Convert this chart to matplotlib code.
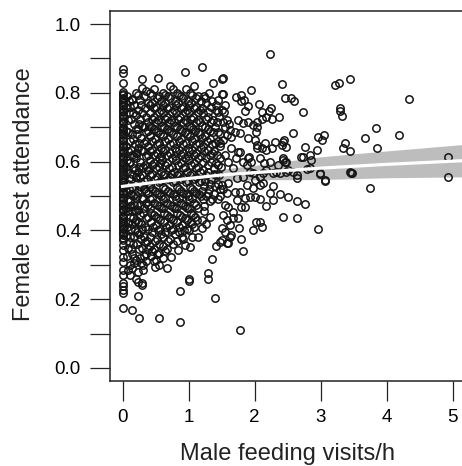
import matplotlib
matplotlib.use("Agg")
import matplotlib.pyplot as plt

plt.rcParams['font.family'] = ['Liberation Sans', 'DejaVu Sans']

# ---------------- data ----------------
# nests with no male feeding visits (x = 0)
zero_visits_y = [0.868, 0.857, 0.830, 0.801, 0.793, 0.786, 0.777, 0.770, 0.761, 0.752,
                 0.744, 0.737, 0.727, 0.718, 0.711, 0.702, 0.693, 0.686, 0.676, 0.668,
                 0.659, 0.651, 0.642, 0.633, 0.625, 0.616, 0.608, 0.599, 0.590, 0.583,
                 0.573, 0.566, 0.556, 0.548, 0.540, 0.531, 0.522, 0.514, 0.506, 0.497,
                 0.489, 0.480, 0.471, 0.463, 0.455, 0.446, 0.437, 0.429, 0.420, 0.412,
                 0.403, 0.395, 0.386, 0.378, 0.371, 0.358, 0.343, 0.324, 0.309, 0.285,
                 0.270, 0.247, 0.238, 0.227, 0.219, 0.175,
                 0.797, 0.781, 0.765, 0.748, 0.732, 0.714, 0.697, 0.680, 0.663, 0.646,
                 0.629, 0.612, 0.595, 0.578, 0.561, 0.544, 0.527, 0.510, 0.493, 0.476,
                 0.459, 0.442, 0.425, 0.408, 0.391]

# dense cloud, 0 < x < 0.6
cloud_low = [
    (0.07, 0.79), (0.12, 0.76), (0.16, 0.74), (0.09, 0.72), (0.18, 0.71), (0.06, 0.69),
    (0.14, 0.68), (0.11, 0.66), (0.19, 0.65), (0.08, 0.63), (0.15, 0.62), (0.12, 0.60),
    (0.17, 0.58), (0.07, 0.57), (0.13, 0.55), (0.19, 0.54), (0.10, 0.52), (0.16, 0.50),
    (0.08, 0.49), (0.13, 0.47), (0.18, 0.46), (0.11, 0.44), (0.15, 0.42), (0.07, 0.41),
    (0.19, 0.40), (0.12, 0.38), (0.16, 0.36), (0.09, 0.35), (0.14, 0.33), (0.18, 0.32),
    (0.11, 0.30), (0.15, 0.29), (0.145, 0.78), (0.10, 0.745), (0.065, 0.605), (0.175, 0.615),
    (0.085, 0.455), (0.125, 0.505), (0.195, 0.575), (0.165, 0.435), (0.15, 0.781),
    (0.21, 0.80), (0.26, 0.78), (0.33, 0.79), (0.38, 0.77), (0.23, 0.75), (0.30, 0.74),
    (0.36, 0.73), (0.25, 0.71), (0.32, 0.70), (0.39, 0.69), (0.22, 0.68), (0.28, 0.67),
    (0.35, 0.66), (0.24, 0.64), (0.31, 0.63), (0.38, 0.62), (0.21, 0.61), (0.27, 0.60),
    (0.34, 0.59), (0.23, 0.57), (0.30, 0.56), (0.37, 0.55), (0.25, 0.53), (0.32, 0.52),
    (0.39, 0.51), (0.22, 0.50), (0.29, 0.49), (0.35, 0.48), (0.24, 0.46), (0.31, 0.45),
    (0.38, 0.44), (0.21, 0.43), (0.28, 0.42), (0.34, 0.41), (0.25, 0.39), (0.32, 0.38),
    (0.37, 0.37), (0.22, 0.36), (0.29, 0.35), (0.35, 0.33), (0.26, 0.32), (0.31, 0.30),
    (0.24, 0.28), (0.36, 0.31), (0.30, 0.815), (0.27, 0.555), (0.365, 0.585), (0.215, 0.475),
    (0.30, 0.839), (0.145, 0.169), (0.24, 0.21), (0.25, 0.144), (0.30, 0.241), (0.24, 0.251),
    (0.11, 0.27), (0.20, 0.26), (0.29, 0.246), (0.31, 0.285),
    (0.42, 0.80), (0.48, 0.81), (0.55, 0.79), (0.44, 0.77), (0.51, 0.76), (0.58, 0.75),
    (0.41, 0.74), (0.47, 0.73), (0.54, 0.72), (0.43, 0.70), (0.50, 0.69), (0.57, 0.68),
    (0.45, 0.66), (0.52, 0.65), (0.59, 0.64), (0.41, 0.63), (0.48, 0.62), (0.55, 0.61),
    (0.44, 0.59), (0.51, 0.58), (0.58, 0.57), (0.42, 0.56), (0.49, 0.55), (0.56, 0.54),
    (0.45, 0.52), (0.52, 0.51), (0.59, 0.50), (0.41, 0.49), (0.48, 0.48), (0.55, 0.47),
    (0.43, 0.45), (0.50, 0.44), (0.57, 0.43), (0.46, 0.41), (0.53, 0.40), (0.59, 0.39),
    (0.42, 0.38), (0.49, 0.37), (0.56, 0.36), (0.45, 0.34), (0.52, 0.33), (0.47, 0.31),
    (0.55, 0.30), (0.49, 0.294), (0.54, 0.844), (0.415, 0.535), (0.575, 0.595), (0.55, 0.144),
]

# dense cloud, 0.6 <= x < 1.5
cloud_mid = [
    (0.62, 0.80), (0.69, 0.79), (0.76, 0.81), (0.64, 0.77), (0.71, 0.76), (0.78, 0.75),
    (0.61, 0.74), (0.67, 0.73), (0.74, 0.72), (0.63, 0.70), (0.70, 0.69), (0.77, 0.68),
    (0.65, 0.66), (0.72, 0.65), (0.79, 0.64), (0.61, 0.63), (0.68, 0.62), (0.75, 0.61),
    (0.64, 0.59), (0.71, 0.58), (0.78, 0.57), (0.62, 0.56), (0.69, 0.55), (0.76, 0.54),
    (0.65, 0.52), (0.72, 0.51), (0.79, 0.50), (0.61, 0.49), (0.68, 0.48), (0.75, 0.47),
    (0.63, 0.45), (0.70, 0.44), (0.77, 0.43), (0.66, 0.41), (0.73, 0.40), (0.79, 0.39),
    (0.62, 0.38), (0.69, 0.37), (0.76, 0.36), (0.65, 0.34), (0.74, 0.324), (0.67, 0.29),
    (0.72, 0.82), (0.605, 0.605), (0.735, 0.565),
    (0.82, 0.80), (0.88, 0.79), (0.94, 0.862), (0.96, 0.81), (0.84, 0.77), (0.91, 0.76),
    (0.98, 0.75), (0.81, 0.74), (0.87, 0.73), (0.94, 0.72), (0.83, 0.70), (0.90, 0.69),
    (0.97, 0.68), (0.85, 0.66), (0.92, 0.65), (0.99, 0.64), (0.81, 0.63), (0.88, 0.62),
    (0.95, 0.61), (0.84, 0.59), (0.91, 0.58), (0.98, 0.57), (0.82, 0.56), (0.89, 0.55),
    (0.96, 0.54), (0.85, 0.52), (0.92, 0.51), (0.99, 0.50), (0.81, 0.49), (0.88, 0.48),
    (0.95, 0.47), (0.83, 0.45), (0.90, 0.44), (0.97, 0.43), (0.86, 0.41), (0.93, 0.40),
    (0.84, 0.343), (0.94, 0.357), (0.87, 0.224), (0.87, 0.133), (0.82, 0.37), (0.90, 0.38),
    (1.02, 0.80), (1.08, 0.82), (1.15, 0.79), (1.04, 0.77), (1.11, 0.76), (1.18, 0.75),
    (1.01, 0.74), (1.07, 0.73), (1.14, 0.72), (1.03, 0.70), (1.10, 0.69), (1.17, 0.68),
    (1.05, 0.66), (1.12, 0.65), (1.19, 0.64), (1.01, 0.63), (1.08, 0.62), (1.15, 0.61),
    (1.04, 0.59), (1.11, 0.58), (1.18, 0.57), (1.02, 0.56), (1.09, 0.55), (1.16, 0.54),
    (1.05, 0.52), (1.12, 0.51), (1.19, 0.50), (1.01, 0.49), (1.08, 0.48), (1.15, 0.465),
    (1.03, 0.45), (1.10, 0.44), (1.06, 0.42), (1.20, 0.406), (1.15, 0.382), (1.05, 0.382),
    (1.02, 0.353), (1.00, 0.254), (1.00, 0.26), (1.09, 0.41), (1.21, 0.876),
    (1.23, 0.79), (1.31, 0.80), (1.37, 0.83), (1.44, 0.78), (1.26, 0.77), (1.34, 0.76),
    (1.41, 0.75), (1.22, 0.74), (1.29, 0.73), (1.37, 0.72), (1.46, 0.73), (1.25, 0.70),
    (1.33, 0.69), (1.40, 0.70), (1.48, 0.68), (1.21, 0.67), (1.28, 0.66), (1.36, 0.65),
    (1.44, 0.66), (1.24, 0.63), (1.32, 0.62), (1.39, 0.63), (1.47, 0.61), (1.22, 0.60),
    (1.30, 0.59), (1.38, 0.58), (1.45, 0.59), (1.26, 0.56), (1.34, 0.55), (1.42, 0.56),
    (1.23, 0.53), (1.31, 0.52), (1.40, 0.53), (1.48, 0.52), (1.27, 0.50), (1.36, 0.49),
    (1.24, 0.47), (1.45, 0.49), (1.30, 0.275), (1.30, 0.26), (1.36, 0.316), (1.40, 0.203),
    (1.42, 0.355), (1.47, 0.367), (1.33, 0.44), (1.27, 0.42), (1.51, 0.839), (1.51, 0.798),
]

# extra points where the cloud is packed solid (0 < x < 1.5)
cloud_fill = [
    (0.10, 0.775), (0.17, 0.765), (0.06, 0.755), (0.13, 0.725), (0.20, 0.695), (0.09, 0.685),
    (0.16, 0.665), (0.05, 0.645), (0.13, 0.635), (0.20, 0.625), (0.10, 0.595), (0.06, 0.585),
    (0.15, 0.565), (0.20, 0.555), (0.09, 0.535), (0.15, 0.525), (0.06, 0.515), (0.19, 0.505),
    (0.11, 0.485), (0.17, 0.475), (0.06, 0.465), (0.14, 0.455), (0.09, 0.425), (0.19, 0.425),
    (0.13, 0.405), (0.06, 0.385), (0.17, 0.385), (0.10, 0.365), (0.13, 0.345), (0.07, 0.325),
    (0.17, 0.305), (0.09, 0.285),
    (0.24, 0.795), (0.35, 0.805), (0.28, 0.765), (0.34, 0.755), (0.21, 0.735), (0.27, 0.725),
    (0.38, 0.715), (0.30, 0.705), (0.23, 0.695), (0.36, 0.685), (0.25, 0.655), (0.32, 0.655),
    (0.39, 0.645), (0.28, 0.635), (0.22, 0.625), (0.35, 0.615), (0.25, 0.585), (0.31, 0.585),
    (0.39, 0.575), (0.21, 0.555), (0.33, 0.545), (0.28, 0.525), (0.36, 0.515), (0.23, 0.515),
    (0.31, 0.495), (0.26, 0.475), (0.38, 0.475), (0.33, 0.465), (0.21, 0.455), (0.27, 0.445),
    (0.35, 0.435), (0.24, 0.425), (0.30, 0.405), (0.38, 0.405), (0.22, 0.395), (0.28, 0.375),
    (0.34, 0.365), (0.25, 0.345), (0.39, 0.345), (0.32, 0.325), (0.21, 0.315), (0.28, 0.305),
    (0.45, 0.795), (0.52, 0.785), (0.59, 0.775), (0.41, 0.765), (0.48, 0.755), (0.55, 0.745),
    (0.44, 0.725), (0.51, 0.715), (0.58, 0.715), (0.40, 0.705), (0.47, 0.695), (0.54, 0.685),
    (0.42, 0.675), (0.49, 0.665), (0.56, 0.655), (0.45, 0.635), (0.52, 0.625), (0.59, 0.615),
    (0.41, 0.605), (0.48, 0.595), (0.55, 0.585), (0.45, 0.565), (0.52, 0.555), (0.59, 0.545),
    (0.42, 0.525), (0.49, 0.515), (0.56, 0.505), (0.45, 0.495), (0.52, 0.475), (0.58, 0.465),
    (0.41, 0.465), (0.47, 0.445), (0.54, 0.435), (0.43, 0.425), (0.50, 0.415), (0.57, 0.405),
    (0.45, 0.395), (0.52, 0.375), (0.41, 0.355), (0.48, 0.345), (0.56, 0.335), (0.43, 0.325),
    (0.51, 0.315),
    (0.65, 0.795), (0.72, 0.785), (0.79, 0.775), (0.61, 0.765), (0.68, 0.755), (0.75, 0.745),
    (0.64, 0.725), (0.71, 0.715), (0.78, 0.715), (0.60, 0.705), (0.67, 0.695), (0.74, 0.685),
    (0.62, 0.675), (0.69, 0.665), (0.76, 0.655), (0.65, 0.635), (0.72, 0.625), (0.79, 0.615),
    (0.68, 0.595), (0.75, 0.585), (0.65, 0.565), (0.72, 0.555), (0.79, 0.545), (0.62, 0.525),
    (0.69, 0.515), (0.76, 0.505), (0.65, 0.495), (0.72, 0.475), (0.78, 0.465), (0.61, 0.465),
    (0.67, 0.445), (0.74, 0.435), (0.63, 0.425), (0.70, 0.415), (0.77, 0.405), (0.65, 0.395),
    (0.72, 0.375), (0.61, 0.355), (0.68, 0.345), (0.62, 0.320),
    (0.85, 0.795), (0.92, 0.785), (0.99, 0.775), (0.81, 0.765), (0.88, 0.755), (0.95, 0.745),
    (0.84, 0.725), (0.91, 0.715), (0.98, 0.715), (0.80, 0.705), (0.87, 0.695), (0.94, 0.685),
    (0.82, 0.675), (0.89, 0.665), (0.96, 0.655), (0.85, 0.635), (0.92, 0.625), (0.99, 0.615),
    (0.81, 0.605), (0.88, 0.595), (0.95, 0.585), (0.85, 0.565), (0.92, 0.555), (0.99, 0.545),
    (0.82, 0.525), (0.89, 0.515), (0.96, 0.505), (0.85, 0.495), (0.92, 0.475), (0.98, 0.465),
    (0.81, 0.465), (0.87, 0.445), (0.94, 0.435), (0.83, 0.425), (0.90, 0.415), (0.97, 0.405),
    (0.85, 0.395), (0.92, 0.375),
    (1.05, 0.795), (1.12, 0.785), (1.19, 0.775), (1.01, 0.765), (1.08, 0.755), (1.15, 0.745),
    (1.04, 0.725), (1.11, 0.715), (1.18, 0.715), (1.00, 0.705), (1.07, 0.695), (1.14, 0.685),
    (1.02, 0.675), (1.09, 0.665), (1.16, 0.655), (1.05, 0.635), (1.12, 0.625), (1.19, 0.615),
    (1.01, 0.605), (1.08, 0.595), (1.15, 0.585), (1.05, 0.565), (1.12, 0.555), (1.19, 0.545),
    (1.02, 0.525), (1.09, 0.515), (1.16, 0.505), (1.05, 0.495), (1.12, 0.475), (1.01, 0.465),
    (1.07, 0.445), (1.13, 0.430), (1.03, 0.425), (1.00, 0.400),
    (1.25, 0.785), (1.35, 0.775), (1.42, 0.765), (1.21, 0.755), (1.30, 0.745), (1.45, 0.745),
    (1.26, 0.725), (1.34, 0.715), (1.43, 0.715), (1.21, 0.705), (1.29, 0.695), (1.37, 0.685),
    (1.44, 0.685), (1.25, 0.675), (1.33, 0.665), (1.40, 0.655), (1.48, 0.645), (1.22, 0.645),
    (1.29, 0.635), (1.36, 0.625), (1.43, 0.620), (1.26, 0.610), (1.34, 0.600), (1.41, 0.595),
    (1.49, 0.585), (1.22, 0.575), (1.30, 0.570), (1.38, 0.565), (1.46, 0.560), (1.25, 0.545),
    (1.33, 0.535), (1.44, 0.535), (1.21, 0.515), (1.29, 0.510), (1.39, 0.505), (1.22, 0.490),
    (1.32, 0.485), (1.48, 0.500), (1.23, 0.455), (1.21, 0.430),
]

# sparser points, x >= 1.5
cloud_high = [
    (1.55, 0.765), (1.50, 0.750), (1.53, 0.745), (1.58, 0.721), (1.52, 0.716), (1.75, 0.721),
    (1.63, 0.692), (1.70, 0.687), (1.78, 0.682), (1.58, 0.677), (1.65, 0.672), (1.52, 0.663),
    (1.47, 0.653), (1.78, 0.629), (1.72, 0.787), (1.80, 0.794), (1.79, 0.777), (1.84, 0.779),
    (1.52, 0.842), (1.52, 0.798), (1.60, 0.364), (1.65, 0.387), (1.55, 0.396), (1.50, 0.406),
    (1.63, 0.416), (1.58, 0.430), (1.68, 0.435), (1.75, 0.435), (1.52, 0.445), (1.68, 0.454),
    (1.60, 0.469), (1.55, 0.474), (1.80, 0.469), (1.73, 0.488), (1.78, 0.513), (1.70, 0.513),
    (1.58, 0.508), (1.52, 0.519), (1.50, 0.532), (1.60, 0.537), (1.73, 0.551), (1.83, 0.340),
    (1.80, 0.375), (1.77, 0.406), (1.63, 0.382), (1.50, 0.372), (1.58, 0.362), (1.60, 0.600),
    (1.68, 0.580), (1.55, 0.620), (1.65, 0.640), (1.72, 0.610), (1.62, 0.710), (1.56, 0.700),
    (1.83, 0.556), (1.85, 0.469), (1.85, 0.493), (1.88, 0.532), (1.93, 0.498), (2.00, 0.498),
    (2.08, 0.490), (2.18, 0.471), (2.28, 0.488), (2.38, 0.505), (2.23, 0.510), (2.28, 0.530),
    (2.13, 0.537), (2.08, 0.532), (1.98, 0.522), (2.08, 0.556), (2.13, 0.566), (1.98, 0.566),
    (2.00, 0.547), (2.43, 0.438), (2.02, 0.423), (2.08, 0.423), (2.11, 0.411), (1.98, 0.401),
    (2.38, 0.566), (2.28, 0.568), (2.24, 0.913), (2.41, 0.825), (1.94, 0.808), (2.46, 0.784),
    (2.07, 0.769), (1.90, 0.763), (1.85, 0.748), (2.25, 0.755), (2.22, 0.748), (2.12, 0.743),
    (2.17, 0.731), (2.12, 0.724), (2.27, 0.724), (2.37, 0.729), (1.83, 0.713), (1.90, 0.716),
    (1.98, 0.706), (2.03, 0.716), (2.04, 0.700), (2.02, 0.687), (1.90, 0.670), (2.00, 0.663),
    (2.03, 0.648), (2.11, 0.639), (2.16, 0.653), (2.26, 0.639), (2.31, 0.658), (2.44, 0.663),
    (2.48, 0.643), (2.41, 0.648), (1.92, 0.614), (2.43, 0.610), (2.46, 0.600), (1.88, 0.590),
    (1.95, 0.600), (2.15, 0.595), (2.35, 0.590), (1.78, 0.110),
    (1.75, 0.629), (2.03, 0.640), (2.18, 0.634), (2.43, 0.658), (1.90, 0.610), (1.83, 0.600),
    (2.08, 0.610), (2.23, 0.600), (2.43, 0.605), (2.48, 0.600), (2.71, 0.614), (2.86, 0.605),
    (1.93, 0.571), (2.18, 0.576), (2.33, 0.571), (2.48, 0.571), (2.64, 0.551), (2.84, 0.581),
    (2.99, 0.566), (3.07, 0.547), (3.44, 0.569),
    (2.51, 0.498), (2.64, 0.486), (2.76, 0.477), (2.51, 0.576), (2.58, 0.571), (2.64, 0.561),
    (2.79, 0.578), (2.65, 0.435), (2.96, 0.404), (3.07, 0.545), (2.99, 0.564), (3.47, 0.568),
    (2.55, 0.784), (2.60, 0.777), (2.74, 0.743), (2.58, 0.684), (2.96, 0.672), (3.05, 0.677),
    (3.02, 0.663), (2.76, 0.643), (2.94, 0.634), (2.84, 0.619), (2.74, 0.614), (3.22, 0.823),
    (3.28, 0.829), (3.45, 0.839), (3.29, 0.755), (3.30, 0.748), (3.33, 0.733), (3.37, 0.653),
    (3.34, 0.639), (3.44, 0.632), (3.84, 0.699), (4.19, 0.677), (3.67, 0.668), (3.85, 0.641),
    (4.34, 0.781), (4.93, 0.612), (4.93, 0.554), (3.46, 0.568), (3.75, 0.522),
]

# fitted curve and its confidence band
fit_x = [0.0, 0.5, 1.0, 1.5, 2.0, 3.0, 4.0, 5.3]
fit_y = [0.528, 0.540, 0.551, 0.561, 0.568, 0.581, 0.592, 0.604]
band_lo = [0.517, 0.529, 0.538, 0.544, 0.547, 0.548, 0.553, 0.556]
band_hi = [0.539, 0.551, 0.564, 0.578, 0.589, 0.614, 0.631, 0.652]

# ---------------- figure ----------------
fig = plt.figure(figsize=(4.62, 4.66), dpi=100)
ax = fig.add_axes([110 / 462, 85 / 466, 362.3 / 462, 370 / 466])

ax.fill_between(fit_x, band_lo, band_hi, color='#bdbdbd', lw=0, zorder=1)

pts = cloud_low + cloud_mid + cloud_fill + cloud_high
xs = [0.0] * len(zero_visits_y) + [p[0] for p in pts]
ys = zero_visits_y + [p[1] for p in pts]
ax.plot(xs, ys, ls='none', marker='o', ms=5.3, mfc='none', mec='#141414', mew=1.1, zorder=2)

ax.plot(fit_x, fit_y, color='white', lw=2.3, zorder=3)

ax.set_xlim(-0.19, 5.3)
ax.set_ylim(-0.038, 1.038)
ax.set_xticks(range(0, 6))
ax.set_yticks([0.0, 0.2, 0.4, 0.6, 0.8, 1.0])
ax.set_yticks([0.1, 0.3, 0.5, 0.7, 0.9], minor=True)
ax.set_yticklabels(['0.0', '0.2', '0.4', '0.6', '0.8', '1.0'])

ax.tick_params(axis='both', which='both', direction='out', length=14.4, width=0.9,
               labelsize=13.5, color='#222222')
ax.tick_params(axis='y', pad=6.5)
ax.tick_params(axis='x', pad=6)
for s in ax.spines.values():
    s.set_linewidth(1.1)
    s.set_color('#222222')

fig.text(24 / 462, 272 / 466, 'Female nest attendance', rotation=90,
         ha='center', va='center', fontsize=17, color='#222222')
fig.text(287 / 462, 6 / 466, 'Male feeding visits/h', ha='center', va='baseline',
         fontsize=17, color='#222222')

fig.savefig('out.png', dpi=100)
